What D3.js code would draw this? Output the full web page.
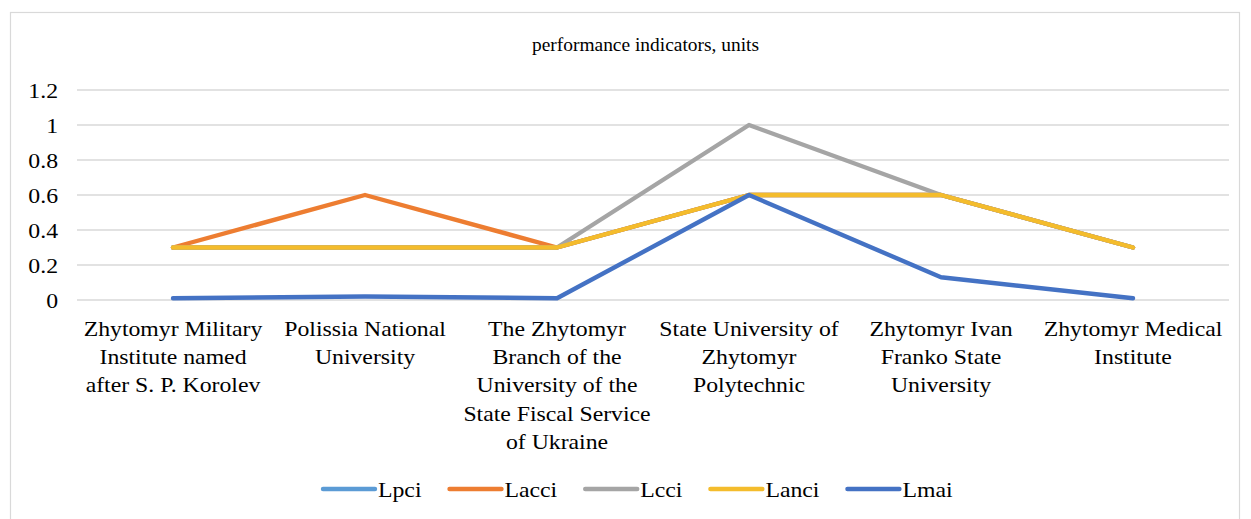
<!DOCTYPE html>
<html>
<head>
<meta charset="utf-8">
<script src="https://cdn.jsdelivr.net/npm/d3@7"></script>
<style>
  body { margin: 0; background: #fff; }
</style>
</head>
<body>
<div id="chart"></div>
<script>
const width = 1251
const height = 519

const title = 'performance indicators, units'

const categories = [
  ['Zhytomyr Military', 'Institute named', 'after S. P. Korolev'],
  ['Polissia National', 'University'],
  ['The Zhytomyr', 'Branch of the', 'University of the', 'State Fiscal Service', 'of Ukraine'],
  ['State University of', 'Zhytomyr', 'Polytechnic'],
  ['Zhytomyr Ivan', 'Franko State', 'University'],
  ['Zhytomyr Medical', 'Institute']
]

const seriesNames = ['Lpci', 'Lacci', 'Lcci', 'Lanci', 'Lmai']
const seriesColors = ['#5b9bd5', '#ed7d31', '#a5a5a5', '#f4bc2c', '#4472c4']

const Lpci = [0.3, 0.3, 0.3, 0.6, 0.6, 0.3]
const Lacci = [0.3, 0.6, 0.3, 0.6, 0.6, 0.3]
const Lcci = [0.3, 0.3, 0.3, 1.0, 0.6, 0.3]
const Lanci = [0.3, 0.3, 0.3, 0.6, 0.6, 0.3]
const Lmai = [0.01, 0.02, 0.01, 0.6, 0.13, 0.01]

const yTicks = [0, 0.2, 0.4, 0.6, 0.8, 1, 1.2]

const seriesValues = [Lpci, Lacci, Lcci, Lanci, Lmai]

const margin = { left: 77, right: 22, top: 90, bottom: 219 }
const serif = '"Liberation Serif"'
const sx = 1.08   // the source picture is slightly stretched sideways

const svg = d3.select('#chart').append('svg')
  .attr('width', width)
  .attr('height', height)

// outer chart border
svg.append('rect')
  .attr('x', 10.5).attr('y', 12.5)
  .attr('width', 1229).attr('height', 520)
  .attr('fill', 'none')
  .attr('stroke', '#d9d9d9')
  .attr('stroke-width', 1.2)

svg.append('text')
  .attr('transform', `translate(${width / 2 + 20},51) scale(${sx},1)`)
  .attr('text-anchor', 'middle')
  .style('font-family', serif)
  .style('font-size', '18px')
  .text(title)

const x = d3.scaleBand()
  .domain(d3.range(categories.length))
  .range([margin.left, width - margin.right])

const y = d3.scaleLinear()
  .domain([0, 1.2])
  .range([height - margin.bottom, margin.top])

// gridlines
svg.append('g')
  .selectAll('line')
  .data(yTicks)
  .join('line')
    .attr('x1', margin.left)
    .attr('x2', width - margin.right)
    .attr('y1', d => y(d))
    .attr('y2', d => y(d))
    .attr('stroke', '#d9d9d9')
    .attr('stroke-width', 1.5)

// y tick labels
svg.append('g')
  .selectAll('text')
  .data(yTicks)
  .join('text')
    .attr('transform', d => `translate(58,${y(d) + 7.5}) scale(${sx},1)`)
    .attr('text-anchor', 'end')
    .style('font-family', serif)
    .style('font-size', '22px')
    .text(d => d)

// x category labels
const xl = svg.append('g')
  .selectAll('text')
  .data(categories)
  .join('text')
    .attr('text-anchor', 'middle')
    .style('font-family', serif)
    .style('font-size', '22px')
    .attr('transform', (d, i) => `translate(${x(i) + x.bandwidth() / 2},${y(0) + 36}) scale(${sx},1)`)

xl.selectAll('tspan')
  .data(d => d)
  .join('tspan')
    .attr('x', 0)
    .attr('y', (d, i) => i * 28.2)
    .text(d => d)

const line = d3.line()
  .x((d, i) => x(i) + x.bandwidth() / 2)
  .y(d => y(d))

svg.append('g')
  .selectAll('path')
  .data(seriesValues)
  .join('path')
    .attr('d', d => line(d))
    .attr('fill', 'none')
    .attr('stroke', (d, i) => seriesColors[i])
    .attr('stroke-width', 4.4)
    .attr('stroke-linecap', 'round')
    .attr('stroke-linejoin', 'round')

// legend
const legend = svg.append('g')
let lx = 323
seriesNames.forEach((name, i) => {
  const g = legend.append('g').attr('transform', `translate(${lx},489)`)
  g.append('line')
    .attr('x1', 0).attr('x2', 52)
    .attr('y1', 0).attr('y2', 0)
    .attr('stroke', seriesColors[i])
    .attr('stroke-width', 4.4)
    .attr('stroke-linecap', 'round')
  const t = g.append('text')
    .attr('transform', `translate(55,8) scale(${sx},1)`)
    .style('font-family', serif)
    .style('font-size', '22px')
    .text(name)
  lx += 55 + t.node().getComputedTextLength() * sx + 28
})
</script>
</body>
</html>
